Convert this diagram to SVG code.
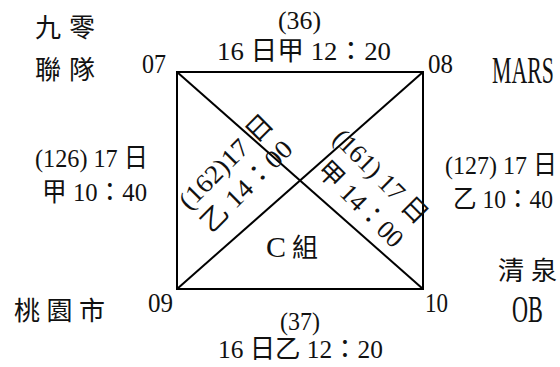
<svg xmlns="http://www.w3.org/2000/svg" width="560" height="367" viewBox="0 0 560 367">
<style>
text{font-family:"Liberation Serif","Noto Sans CJK TC",serif;fill:#111}
.m{font-size:26px}
.n{font-size:28px}
.t{font-size:26px;font-family:"Noto Sans CJK TC",serif}
.b{font-size:37px}
.e{stroke:#000;stroke-width:2;fill:none}
</style>
<rect width="560" height="367" fill="#fff"/>
<g id="connectors">
<rect class="e" x="177" y="72" width="246" height="217"/>
<line class="e" x1="177" y1="72" x2="423" y2="289"/>
<line class="e" x1="177" y1="289" x2="423" y2="72"/>
</g>
<g id="n07"><text class="n" x="142" y="73" textLength="24" lengthAdjust="spacingAndGlyphs">07</text></g>
<g id="n08"><text class="n" x="428" y="73" textLength="25" lengthAdjust="spacingAndGlyphs">08</text></g>
<g id="n09"><text class="n" x="148" y="312" textLength="25" lengthAdjust="spacingAndGlyphs">09</text></g>
<g id="n10"><text class="n" x="425" y="312" textLength="23" lengthAdjust="spacingAndGlyphs">10</text></g>
<g id="team07"><text class="t" x="35" y="37" textLength="60">九零</text><text class="t" x="35" y="79" textLength="60">聯隊</text></g>
<g id="team08"><text class="b" transform="translate(492,83) scale(0.59,1)">MARS</text></g>
<g id="team09"><text class="t" x="14" y="320" textLength="91">桃園市</text></g>
<g id="team10"><text class="t" x="498" y="280" textLength="59">清泉</text><text class="b" transform="translate(512,322) scale(0.6,1)">OB</text></g>
<g id="group"><text x="266" y="257" style="font-size:30px">C <tspan x="292" style="font-size:26px">組</tspan></text></g>
<g id="labels">
<text class="m" x="278" y="29" textLength="43" lengthAdjust="spacingAndGlyphs">(36)</text>
<text class="m" x="217" y="60" textLength="174" lengthAdjust="spacingAndGlyphs">16 日甲 12：20</text>
<text class="m" x="280" y="330" textLength="40" lengthAdjust="spacingAndGlyphs">(37)</text>
<text class="m" x="218" y="358" textLength="165" lengthAdjust="spacingAndGlyphs">16 日乙 12：20</text>
<text class="m" x="35" y="167" textLength="113" lengthAdjust="spacingAndGlyphs">(126) 17 日</text>
<text class="m" x="42" y="201" textLength="105" lengthAdjust="spacingAndGlyphs">甲 10：40</text>
<text class="m" transform="translate(445,174) scale(0.923,1)">(127) 17 日</text>
<text class="m" transform="translate(453,208) scale(0.905,1)">乙 10：40</text>
<text class="m" transform="translate(189,211) rotate(-45)" textLength="122" lengthAdjust="spacingAndGlyphs">(162)17 日</text>
<text class="m" transform="translate(211,234) rotate(-45)" textLength="118" lengthAdjust="spacingAndGlyphs">乙 14：00</text>
<text class="m" transform="translate(331.5,139.5) rotate(45)" textLength="122" lengthAdjust="spacingAndGlyphs">(161) 17 日</text>
<text class="m" transform="translate(315.5,171.5) rotate(45)" textLength="110" lengthAdjust="spacingAndGlyphs">甲 14：00</text>
</g>
</svg>
